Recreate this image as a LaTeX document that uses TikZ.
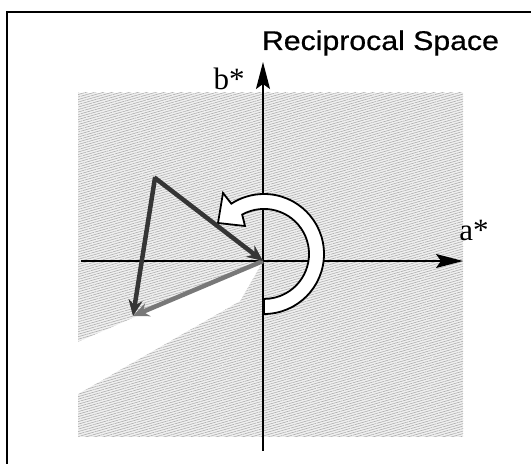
\documentclass[tikz,border=0pt]{standalone}
\usepackage{fontspec}
\setmainfont{Liberation Serif}
\newfontfamily\titlefont[FakeBold=0.6]{Liberation Sans}
\usetikzlibrary{arrows.meta,patterns.meta}
\definecolor{vdark}{HTML}{353535}
\definecolor{vgray}{HTML}{787878}
\tikzset{
  axisline/.style={line width=1.5pt,-{Stealth[length=27pt,width=14pt,inset=5pt]}},
  vecdark/.style={vdark,line width=4.5pt,-{Stealth[length=16pt,width=14pt]}},
  vecgray/.style={vgray,line width=4.5pt,-{Stealth[length=16pt,width=14pt]}},
  lbl/.style={font=\fontsize{31}{34}\selectfont,inner sep=0pt},
}
\begin{document}
\begin{tikzpicture}[x=1pt,y=1pt]
\useasboundingbox (0,0) rectangle (531,464);
\clip (0,0) rectangle (531,464);
% frame
\draw[line width=2pt] (7,452) rectangle (545,-20);
% shaded region
\fill[black!6] (78,27) rectangle (463,371);
\path[pattern={Lines[angle=16,distance=2.4pt,line width=0.6pt]},pattern color=black!32] (78,27) rectangle (463,371);
% white wedge
\fill[white] (263,203) -- (78,122) -- (78,70) -- (240,163) -- cycle;
% named points
\coordinate (O) at (263,203);
\coordinate (T) at (155,286);
\coordinate (B) at (133,148);
\coordinate (xs) at (81,203);
\coordinate (xe) at (463,203);
\coordinate (ys) at (263,13);
\coordinate (ye) at (263,402);
% axes
\draw[axisline] (xs) -- (xe);
\draw[axisline] (ys) -- (ye);
% rotation arrow
\draw[line width=1.8pt,fill=white,line join=miter]
  (264,165) -- (264,150) arc[start angle=-90,end angle=123,radius=60]
  -- (223,271) -- (218,241) -- (245,238) -- (242.2,249.4)
  arc[start angle=119,end angle=-90,radius=45] -- cycle;
% vectors
\draw[vecgray] (O) -- (B);
\draw[vecdark,shorten <=-1pt] (T) -- (O);
\draw[vecdark,shorten <=-1pt] (T) -- (B);
% labels
\node[lbl,anchor=base] (bl) at (229,374) {b*};
\node[lbl,anchor=base] (al) at (474,223) {a*};
\node[anchor=base,inner sep=0pt,xscale=1.12] (title) at (380.5,414) {\titlefont\fontsize{27}{30}\selectfont Reciprocal Space};
\end{tikzpicture}
\end{document}
